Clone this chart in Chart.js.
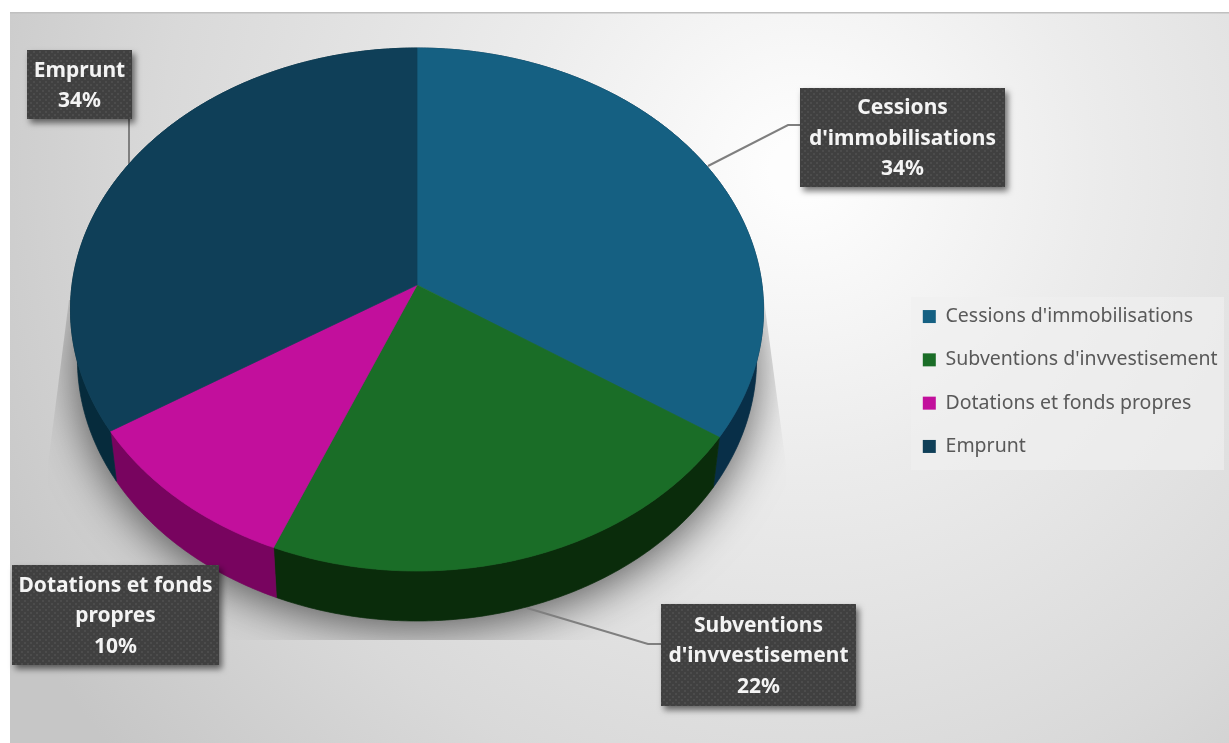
<!DOCTYPE html>
<html>
<head>
<meta charset="utf-8">
<title>Financement</title>
<script src="https://cdn.jsdelivr.net/npm/chart.js@4"></script>
<style>
  html, body { margin: 0; padding: 0; background: #fff; overflow: hidden; }
  canvas { display: block; }
</style>
</head>
<body>
<canvas id="pie" width="1229" height="743"></canvas>
<script>
// Data
const categories = ["Cessions d'immobilisations", "Subventions d'invvestisement", "Dotations et fonds propres", "Emprunt"];
const values = [34.4, 21.8, 9.8, 34];
const topColors = ['#156082', '#1a6d27', '#c20f9c', '#0f3f58'];
const sideColors = ['#082f48', '#0a2c0b', '#78045f', '#062b3c'];
const labelLines = [["Cessions", "d'immobilisations"], ["Subventions", "d'invvestisement"], ["Dotations et fonds", "propres"], ["Emprunt"]];

// Label boxes and leader lines
const labelBoxes = [[800, 88, 205, 99], [661, 604, 195, 102], [12, 565, 207, 100], [27, 50, 105, 69]];
const leaders = [[[708, 166], [788, 125], [800, 125]], [[527, 608], [648, 644], [661, 644]], null, [[129, 119], [129, 166]]];
const shadowShape = [[764, 300], [786, 465], [786, 640], [48, 640], [48, 465], [69, 300]];

// Perspective of the pie on the page
const view = { cx: 417, cy: 285, rx: 345, ry: 259.2, k: 0.0937, depth: 50, shrink: 0.98 };

function rim(angle, low) {
    const u = Math.sin(angle), v = -Math.cos(angle), w = 1 - view.k * v;
    let x = view.rx * u / w, y = view.cy + view.ry * v / w;
    if (low) { x *= view.shrink; y += view.depth; }
    return [view.cx + x, y];
}

function dotPattern(ctx) {
    const c = document.createElement('canvas');
    c.width = 6; c.height = 6;
    const p = c.getContext('2d');
    p.fillStyle = '#404040';
    p.fillRect(0, 0, 6, 6);
    p.fillStyle = '#4c4c4c';
    p.fillRect(0, 0, 2, 2);
    p.fillRect(3, 3, 2, 2);
    return ctx.createPattern(c, 'repeat');
}

function traceRim(ctx, from, to, low, first) {
    const steps = Math.max(2, Math.ceil((to - from) / 0.01));
    for (let i = 0; i <= steps; i++) {
        const a = low ? to - (to - from) * i / steps : from + (to - from) * i / steps;
        const p = rim(a, low);
        if (i === 0 && first) ctx.moveTo(p[0], p[1]); else ctx.lineTo(p[0], p[1]);
    }
}

const pie3d = {
    id: 'pie3d',
    afterLayout(chart) {
        // legend sits on its panel
        const lg = chart.legend;
        lg.left = 899; lg.right = 1260; lg.top = 283; lg.bottom = 490;
    },
    beforeDraw(chart) {
        const ctx = chart.ctx;
        ctx.save();
        ctx.fillStyle = '#fff';
        ctx.fillRect(0, 0, 1229, 743);
        const g = ctx.createRadialGradient(800, 170, 30, 800, 170, 900);
        g.addColorStop(0, '#fdfdfd');
        g.addColorStop(0.3, '#ececec');
        g.addColorStop(0.7, '#d9d9d9');
        g.addColorStop(1, '#c6c6c6');
        ctx.fillStyle = g;
        ctx.fillRect(10, 13, 1219, 730);
        ctx.fillStyle = '#c0c0c0';
        ctx.fillRect(10, 12, 1219, 1.5);
        ctx.fillStyle = 'rgba(240,240,240,0.65)';
        ctx.fillRect(911, 297, 313, 173);
        ctx.restore();
    },
    beforeDatasetsDraw(chart) {
        const ctx = chart.ctx;
        const arcs = chart.getDatasetMeta(0).data;
        const turn = a => a + Math.PI / 2;

        // soft shadow, cut to the wedge shape seen in the original
        ctx.save();
        ctx.beginPath();
        shadowShape.forEach((p, i) => i ? ctx.lineTo(p[0], p[1]) : ctx.moveTo(p[0], p[1]));
        ctx.closePath();
        ctx.clip();
        ctx.shadowColor = 'rgba(0,0,0,0.62)';
        ctx.shadowBlur = 46;
        ctx.shadowOffsetY = 8;
        ctx.fillStyle = '#777';
        ctx.beginPath();
        traceRim(ctx, 0, Math.PI * 2, true, true);
        ctx.closePath();
        ctx.fill();
        ctx.restore();

        // leader lines
        ctx.save();
        ctx.strokeStyle = '#7f7f7f';
        ctx.lineWidth = 2;
        leaders.forEach(l => {
            if (!l) return;
            ctx.beginPath();
            l.forEach((p, i) => i ? ctx.lineTo(p[0], p[1]) : ctx.moveTo(p[0], p[1]));
            ctx.stroke();
        });
        ctx.restore();

        // side walls then top faces, angles come from the arc elements
        arcs.forEach((arc, i) => {
            const a0 = turn(arc.startAngle), a1 = turn(arc.endAngle);
            ctx.fillStyle = sideColors[i];
            ctx.strokeStyle = sideColors[i];
            ctx.lineWidth = 0.7;
            ctx.beginPath();
            traceRim(ctx, a0, a1, false, true);
            traceRim(ctx, a0, a1, true, false);
            ctx.closePath();
            ctx.fill();
            ctx.stroke();
        });
        arcs.forEach((arc, i) => {
            const a0 = turn(arc.startAngle), a1 = turn(arc.endAngle);
            ctx.fillStyle = topColors[i];
            ctx.strokeStyle = topColors[i];
            ctx.lineWidth = 0.7;
            ctx.beginPath();
            ctx.moveTo(view.cx, view.cy);
            traceRim(ctx, a0, a1, false, false);
            ctx.closePath();
            ctx.fill();
            ctx.stroke();
        });

        // data labels
        const pat = dotPattern(ctx);
        const total = values.reduce((s, v) => s + v, 0);
        labelBoxes.forEach((b, i) => {
            ctx.save();
            ctx.shadowColor = 'rgba(0,0,0,0.55)';
            ctx.shadowBlur = 6;
            ctx.shadowOffsetX = 3;
            ctx.shadowOffsetY = 4;
            ctx.fillStyle = pat;
            ctx.fillRect(b[0], b[1], b[2], b[3]);
            ctx.restore();
            const lines = labelLines[i].concat(Math.round(values[i] / total * 100) + '%');
            ctx.fillStyle = '#f4f4f4';
            ctx.font = 'bold 21px "Noto Sans"';
            ctx.textAlign = 'center';
            ctx.textBaseline = 'middle';
            const midX = b[0] + b[2] / 2, midY = b[1] + b[3] / 2 + 1.5;
            lines.forEach((t, n) => ctx.fillText(t, midX, midY + (n - (lines.length - 1) / 2) * 30.5));
        });
        return false;
    }
};

new Chart(document.getElementById('pie'), {
    type: 'pie',
    data: {
        labels: categories,
        datasets: [{ data: values, backgroundColor: topColors, borderWidth: 0 }]
    },
    options: {
        responsive: false,
        animation: false,
        devicePixelRatio: 1,
        plugins: {
            tooltip: { enabled: false },
            legend: {
                position: 'right',
                align: 'start',
                labels: {
                    boxWidth: 13,
                    boxHeight: 13,
                    padding: 23.8,
                    color: '#595959',
                    font: { family: '"Noto Sans"', size: 19.5 }
                }
            }
        }
    },
    plugins: [pie3d]
});
</script>
</body>
</html>
